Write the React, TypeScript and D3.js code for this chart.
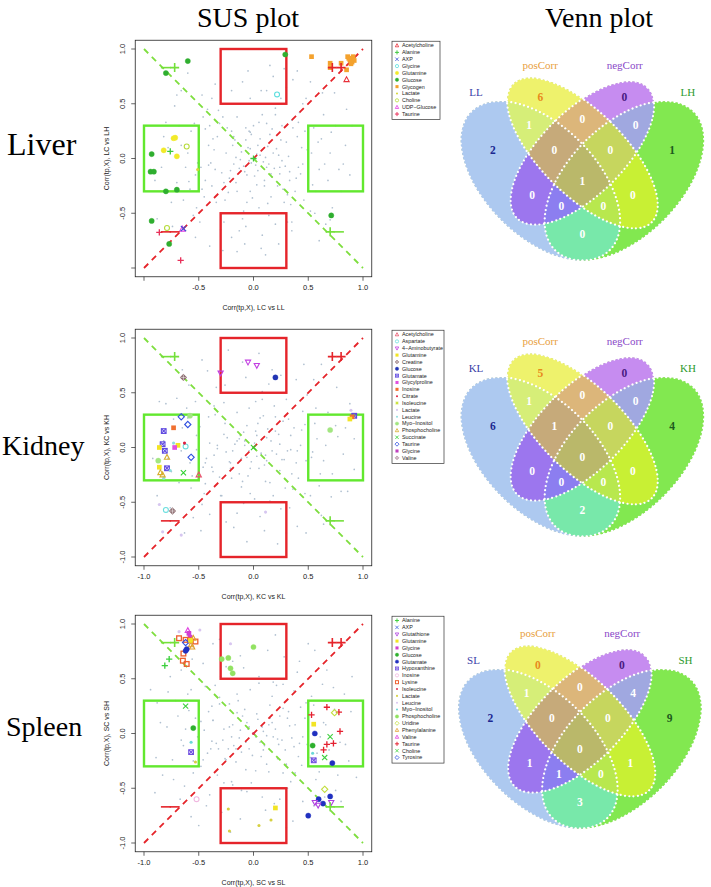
import React from 'react';
import * as d3 from 'd3';

const W = 711;
const H = 887;

// ---------------- DATA ----------------
const tickValues = [-1, -0.5, 0, 0.5, 1];
const tickLabels = ['-1.0', '-0.5', '0.0', '0.5', '1.0'];

const rowLabels = ['Liver', 'Kidney', 'Spleen'];
const xTitles = ['Corr(tp,X), LC vs LL', 'Corr(tp,X), KC vs KL', 'Corr(tp,X), SC vs SL'];
const yTitles = ['Corr(tp,X), LC vs LH', 'Corr(tp,X), KC vs KH', 'Corr(tp,X), SC vs SH'];

// threshold boxes [x0, x1, y0, y1]
const redBoxes = [[-0.3, 0.3, 0.5, 1], [-0.3, 0.3, -1, -0.5]];
const greenBoxes = [[-1, -0.5, -0.3, 0.3], [0.5, 1, -0.3, 0.3]];

// quadrant sign annotations
const signLabels = ['-', '+', '+', '+', '-', '-', '+', '-'];
const signX = [-0.80, -0.72, 0.72, 0.80, -0.80, -0.72, 0.70, 0.78];
const signY = [0.83, 0.83, 0.83, 0.83, -0.67, -0.67, -0.67, -0.67];

// legends
const liverLegend = ['Acetylcholine', 'Alanine', 'AXP', 'Glycine', 'Glutamine', 'Glucose', 'Glycogen', 'Lactate', 'Choline', 'UDP\u2212Glucose', 'Taurine'];
const kidneyLegend = ['Acetylcholine', 'Aspartate', '4\u2212Aminobutyrate', 'Glutamine', 'Creatine', 'Glucose', 'Glutamate', 'Glycylproline', 'Inosine', 'Citrate', 'Isoleucine', 'Lactate', 'Leucine', 'Myo\u2212Inositol', 'Phosphocholine', 'Succinate', 'Taurine', 'Glycine', 'Valine'];
const spleenLegend = ['Alanine', 'AXP', 'Glutathione', 'Glutamine', 'Glycine', 'Glucose', 'Glutamate', 'Hypoxanthine', 'Inosine', 'Lysine', 'Isoleucine', 'Lactate', 'Leucine', 'Myo\u2212Inositol', 'Phosphocholine', 'Uridine', 'Phenylalanine', 'Valine', 'Taurine', 'Choline', 'Tyrosine'];

// metabolite points: [name, x, y]
const liverPts: [string, number, number][] = [
  ['Glucose', -0.60, 0.89], ['Glucose', -0.80, 0.78], ['Glucose', 0.29, 0.95], ['Glucose', -0.93, 0.04],
  ['Glucose', -0.94, -0.12], ['Glucose', -0.91, -0.12], ['Glucose', -0.80, -0.30], ['Glucose', -0.70, -0.285],
  ['Glucose', -0.93, -0.57], ['Glucose', -0.77, -0.78], ['Glucose', 0.71, -0.52],
  ['Alanine', -0.76, 0.065], ['Alanine', 0.0, 0.0],
  ['Glutamine', -0.73, 0.185], ['Glutamine', -0.715, 0.19], ['Glutamine', -0.82, 0.075], ['Glutamine', -0.70, 0.02],
  ['Choline', -0.61, 0.11], ['Choline', -0.79, -0.635],
  ['Lactate', -0.51, -0.10],
  ['Glycogen', 0.53, 0.93], ['Glycogen', 0.70, 0.87], ['Glycogen', 0.70, 0.83], ['Glycogen', 0.80, 0.87],
  ['Glycogen', 0.85, 0.81], ['Glycogen', 0.86, 0.93], ['Glycogen', 0.88, 0.90], ['Glycogen', 0.90, 0.88],
  ['Glycogen', 0.91, 0.93], ['Glycogen', 0.92, 0.895], ['Glycogen', 0.89, 0.865], ['Glycogen', 0.87, 0.915],
  ['Acetylcholine', 0.85, 0.72],
  ['Taurine', -0.86, -0.675], ['Taurine', -0.665, -0.93],
  ['Glycine', 0.215, 0.585],
  ['UDP\u2212Glucose', -0.65, -0.645], ['AXP', -0.64, -0.64],
];

const kidneyPts: [string, number, number][] = [
  ['4\u2212Aminobutyrate', -0.05, 0.78], ['4\u2212Aminobutyrate', 0.03, 0.75], ['4\u2212Aminobutyrate', -0.30, 0.68],
  ['Glucose', 0.20, 0.64],
  ['Creatine', -0.64, 0.64], ['Creatine', -0.74, -0.58],
  ['Aspartate', -0.80, -0.57], ['Aspartate', -0.62, 0.01],
  ['Lactate', -0.86, -0.52], ['Lactate', -0.83, -0.77], ['Lactate', -0.66, -0.80], ['Lactate', 0.11, -0.59], ['Lactate', 0.89, 0.34],
  ['Myo\u2212Inositol', -0.58, 0.29], ['Myo\u2212Inositol', -0.87, -0.12], ['Myo\u2212Inositol', 0.70, 0.16],
  ['Taurine', -0.66, 0.28], ['Taurine', -0.60, 0.21], ['Taurine', -0.57, -0.09],
  ['Glutamate', -0.82, 0.15], ['Glutamate', -0.83, 0.03], ['Glutamate', -0.81, -0.03], ['Glutamate', -0.79, -0.19], ['Glutamate', 0.92, 0.29],
  ['Inosine', -0.73, 0.18], ['Inosine', 0.90, 0.28],
  ['Glutamine', -0.86, 0.0], ['Glutamine', -0.69, 0.02], ['Glutamine', -0.86, -0.18], ['Glutamine', 0.88, 0.26],
  ['Glycylproline', -0.72, 0.0],
  ['Citrate', -0.63, 0.04],
  ['Leucine', -0.73, 0.04], ['Leucine', -0.76, -0.21], ['Leucine', -0.82, -0.28],
  ['Phosphocholine', -0.79, -0.09], ['Phosphocholine', -0.85, -0.23], ['Phosphocholine', -0.83, -0.25],
  ['Succinate', -0.64, -0.23], ['Succinate', 0.0, 0.0],
  ['Acetylcholine', -0.50, -0.25],
];

const spleenPts: [string, number, number][] = [
  ['Valine', -0.60, 0.94], ['Glycine', -0.59, 0.915], ['Glycine', -0.58, 0.88],
  ['Lysine', -0.68, 0.87], ['Lysine', -0.62, 0.855], ['Lysine', -0.58, 0.85], ['Lysine', -0.53, 0.84],
  ['Lysine', -0.64, 0.73], ['Lysine', -0.645, 0.665], ['Lysine', -0.61, 0.635],
  ['Phenylalanine', -0.55, 0.87], ['Phenylalanine', -0.57, 0.81], ['Phenylalanine', -0.56, 0.79],
  ['Tyrosine', -0.62, 0.83],
  ['Glutamate', -0.61, 0.77], ['Glutamate', -0.62, 0.755],
  ['Glutamine', -0.575, 0.85],
  ['Leucine', -0.49, 0.945], ['Leucine', -0.68, 0.93], ['Leucine', -0.21, 0.82],
  ['Alanine', -0.77, 0.68], ['Alanine', -0.81, 0.62],
  ['Phosphocholine', -0.29, 0.68], ['Phosphocholine', -0.23, 0.69], ['Phosphocholine', -0.21, 0.595],
  ['Phosphocholine', -0.19, 0.55], ['Phosphocholine', 0.0, 0.79],
  ['Choline', -0.62, 0.25], ['Glucose', -0.55, 0.05], ['Myo\u2212Inositol', -0.57, -0.08],
  ['Hypoxanthine', -0.57, -0.17], ['Lactate', -0.53, -0.26], ['Inosine', -0.52, -0.60],
  ['Taurine', 0.53, 0.17], ['Taurine', 0.67, 0.24], ['Taurine', 0.78, 0.195], ['Taurine', 0.79, 0.02],
  ['Taurine', 0.73, -0.09], ['Taurine', 0.67, -0.10], ['Taurine', 0.64, -0.15],
  ['Uridine', 0.74, 0.19], ['Glutamine', 0.55, 0.085], ['Glutamate', 0.56, 0.0], ['Glutamate', 0.72, -0.27],
  ['Glucose', 0.54, -0.11], ['Myo\u2212Inositol', 0.54, -0.18], ['Hypoxanthine', 0.55, -0.245],
  ['Choline', 0.70, -0.03], ['Choline', 0.65, -0.22],
  ['Glutamate', 0.595, -0.60], ['Glutamate', 0.635, -0.64], ['Glutamate', 0.70, -0.575], ['Glutamate', 0.50, -0.75],
  ['Glutathione', 0.56, -0.63], ['Glutathione', 0.59, -0.655], ['Glutathione', 0.71, -0.63],
  ['Uridine', 0.65, -0.51],
  ['Glutamine', 0.20, -0.68], ['Lactate', -0.23, -0.69], ['Lactate', -0.22, -0.89], ['Lactate', 0.05, -0.84], ['Lactate', 0.16, -0.79],
  ['Isoleucine', 0.0, 0.0],
];

// background (non-significant) points, in hundredths: x, y, x, y ...
const liverBg = [
  -5, 10, 12, -8, -20, 25, 30, 15, -35, -10, 8, 40, -15, -30, 22, -25, -40, 30, 45, -5,
  -8, -12, 15, 22, -25, 5, 35, 35, -45, -35, 5, -45, -12, 50, 28, -40, -30, -50, 40, 20,
  0, 30, -18, -5, 18, 5, -50, 15, 50, -20, -10, -55, 25, 55, -28, 38, 33, -12, -38, -25,
  10, -20, -22, -18, 20, 40, -42, 45, 42, 42, -3, -30, 14, -52, -33, 20, 38, -30, -48, -8,
  6, 18, -14, 14, 26, -2, -6, -40, 16, -35, -26, -38, 32, 2, -36, 8, 44, 10, -44, -20,
  2, -6, -2, 22, 12, 32, -16, -22, 24, -14, -24, 28, 36, 28, -34, -40, 46, -38, -46, 38,
  7, 62, -7, -62, 20, -60, -20, 62, 30, 65, -30, -65, 48, 55, -55, -52, 55, 28, -58, -28,
  60, -10, -60, 5, 8, -70, -10, 70, 18, 75, -20, -72, 35, -58, -38, 55, 52, -48, -52, -45,
  64, 40, -64, -38, 3, 4, -4, -2, 9, -3, -11, 6, 4, 12, -6, -15, 13, 11, -13, -9,
  17, -17, -17, 17, 21, 9, -21, -11, 27, -28, -27, -22, 31, -33, -31, 32, 39, -18, -39, -4,
  41, -8, -41, 12, 47, 25, -47, -28, 53, 5, -53, -15, 57, -30, -57, 25, 62, 18, -62, -8,
  68, -20, -68, 30, 70, 5, -70, -22, 72, -45, -72, 48, 75, 30, -75, -40, 78, -10, -78, 10,
  82, -5, -82, 20, 85, 45, -85, -30, 60, -75, -60, 78, 40, 80, -40, -80, 15, 85, -15, -85,
  23, -78, 36, 72, -8, -78, 11, -88, 66, -60, -66, 62, 74, 60, -74, -62, 88, -15, -88, -55,
  -2, -4, 6, 3, -9, -7, 11, 1, -3, 9, 4, -11, 14, -5, -7, 17, 19, -9, -16, 1,
  1, -16, 8, 8, -12, -1, 23, 3, -4, 25, 10, -25, -19, 12, 29, -7, -23, -31, 17, 27,
  -29, -13, 5, 33, -1, -36, 33, -20, -37, 18, 26, 30, -32, 44, 13, -41, 43, -14, -41, -6,
  -7, 28, 24, -8, -15, 38, 34, -42, -44, 27, 41, 33, -9, -48, 20, 46, -51, -4, 49, 8,
  -3, 55, 31, -58, -27, -58, 54, -24, -54, 32, 59, 15, -59, -21, 12, 62, -13, -66, 45, 50,
  -47, 58, 56, -50, -49, -58, 65, -5, -66, 12, 35, -66, -35, 68, 71, 24, -69, -30, 7, -82,
  -5, 80, 28, 82, -28, -84, 80, -30, -80, 33, 63, 60, -62, -66, 84, 12, -84, -8, 90, 30,
  -90, -20, 52, 70, -53, -72, 70, -56, -70, 58, 3, -24, -3, 24, 16, -14, -18, 20, 25, 17,
];
const kidneyBg = [
  3, -8, -9, 14, 16, 6, -21, -19, 27, 24, -33, 2, 11, -31, -4, 36, 39, -14, -44, -33,
  21, -6, -13, -24, 6, 27, 29, -37, -27, 41, 34, 11, -36, -7, 45, 33, -49, 19, 1, -47,
  -17, 3, 13, 17, -6, -9, 24, -21, -24, 9, 8, 44, -29, -44, 41, -28, -41, 28, 18, -44,
  2, 15, -11, -36, 31, -3, -38, -18, 48, -12, -52, -2, 19, 38, -19, -3, 10, -16, -3, -19,
  56, 22, -56, -26, 60, -35, -61, 36, 14, 58, -15, -60, 33, -55, -34, 55, 49, 48, -47, -52,
  7, -5, -8, 6, 12, -12, -12, 11, 4, 22, -5, -26, 23, 12, -22, -13, 26, -11, -26, 22,
  35, -24, -35, 30, 43, 2, -43, -10, 52, -44, -53, 42, 58, 8, -58, -14, 64, -12, -65, 18,
  68, 32, -68, -32, 72, -24, -73, 26, 77, 10, -78, -10, 80, -40, -80, 40, 84, 18, -85, -20,
  25, 66, -25, -68, 40, -72, -42, 70, 55, 62, -55, -64, 62, -62, -62, 64, 10, -76, -10, 78,
  30, -78, -30, 80, 46, 76, -48, -76, 5, 86, -6, -86, 70, -66, 88, 40, -88, -44, 92, -20,
  -15, 32, 15, -32, 37, 18, -37, -22, 47, -42, -45, -42, 54, -4, -50, 8, 20, 28, -20, -28,
  1, 4, -4, -3, 7, -6, -8, 2, 3, 11, -2, -13, 12, 9, -11, -10, 17, -3, -15, 6,
  5, -19, -6, 20, 20, 15, -21, -14, 28, -11, -27, 12, 9, 29, -10, -31, 32, 26, -31, -27,
  40, -3, -40, 4, 2, 42, -3, -42, 36, -38, -36, 38, 15, -49, -16, 50, 47, 21, -46, -18,
  53, -9, -52, 11, 25, -56, -26, 57, 6, -63, -7, 64, 57, 36, -57, -37, 61, -24, -60, 27,
  66, 2, -66, -3, 39, 62, -40, -61, 71, -45, -70, 45, 17, 71, -18, -73, 75, 20, -75, -22,
  82, -6, -82, 6, 48, -78, -47, 80, 64, -70, -65, 71, 86, -40, -86, 42, 22, -88, -23, 89,
  34, -2, -33, -1, 44, 16, -44, -14, 11, -7, -13, 8, 24, 3, -25, -4, 8, 51, -9, -51,
  58, -58, -59, 57, 30, 44, -30, -44, 76, 55, -76, -55, 92, 8, -92, -10, 62, 76, -63, -78,
];
const spleenBg = [
  -4, 6, 10, -11, -15, 19, 22, -23, -28, -6, 32, 20, -7, -33, 17, 34, -37, 12, 42, -9,
  -11, -17, 14, 8, -22, 27, 27, -36, -33, -38, 37, 39, -2, -45, 5, 46, -46, -24, 47, 14,
  9, 2, -13, -4, 18, -3, -19, 8, 24, 16, -25, -24, 29, -15, -31, 33, 35, -4, -39, -14,
  44, -29, -44, 43, 50, 2, -51, -3, 53, 34, -55, -36, 58, -18, -59, 21, 63, 45, -63, -48,
  3, 18, -1, -20, 12, -28, -14, 30, 21, 44, -20, -44, 31, -50, -30, 52, 40, 56, -40, -56,
  8, -58, -9, 60, 19, -64, -19, 66, 28, 70, -29, -72, 45, -62, -46, 64, 55, -66, -56, 68,
  66, 8, -66, -6, 70, -28, -71, 30, 74, 22, -74, -24, 79, -8, -79, 6, 83, 36, -83, -38,
  6, -8, -6, 10, 15, 14, -16, -14, 26, -6, -27, 4, 33, 7, -34, -9, 38, -36, -38, 25,
  48, 28, -48, -30, 57, -42, -57, 40, 61, -3, -62, 4, 67, 58, -67, -60, 75, -52, -76, 52,
  13, 76, -12, -78, 36, -80, -37, 82, 50, 82, -50, -84, 87, -25, -88, 28, 90, 52, -90, -54,
  2, -34, -3, 40, 23, -10, -23, -14, 43, 24, -42, -18, 52, -22, -53, 14, 11, 50, -11, -52,
  2, -3, -5, 4, 8, 6, -7, -8, 12, -2, -12, 3, 4, 13, -4, -14, 17, 10, -18, -11,
  22, -5, -22, 6, 7, -21, -8, 22, 27, 23, -26, -23, 30, -28, -31, 27, 14, -35, -15, 36,
  38, 8, -38, -7, 41, -21, -41, 20, 18, 47, -19, -47, 49, -10, -48, 11, 5, 52, -6, -53,
  34, -44, -35, 44, 55, 26, -55, -25, 60, -35, -60, 36, 24, -60, -25, 61, 64, 10, -64, -11,
  42, 66, -43, -66, 69, -15, -69, 16, 11, -70, -12, 71, 73, 42, -73, -42, 77, -38, -78, 38,
  30, -86, -31, 86, 84, -10, -85, 10, 56, 76, -57, -76, 89, 20, -89, -22, 20, 90, -21, -90,
  9, -15, -10, 16, 20, 4, -20, -3, 31, 14, -32, -14, 45, -3, -45, 3, 15, 26, -16, -26,
  37, -12, -37, 12, 27, 45, -27, -45, 65, -58, -66, 58, 80, -62, -80, 62, 94, -40, -94, 40,
];

// Venn
const liverVennLabels = ['LL', 'posCorr', 'negCorr', 'LH'];
const kidneyVennLabels = ['KL', 'posCorr', 'negCorr', 'KH'];
const spleenVennLabels = ['SL', 'posCorr', 'negCorr', 'SH'];
// region counts, order: B, BC, C, AB, ABC, ABCD, BCD, CD, A, AC, ACD, AD, ABD, BD, D
const liverCounts = [6, 0, 0, 1, 0, 1, 0, 0, 2, 0, 0, 0, 0, 0, 1];
const kidneyCounts = [5, 0, 0, 1, 1, 0, 0, 0, 6, 0, 0, 2, 0, 0, 4];
const spleenCounts = [0, 0, 0, 1, 0, 0, 0, 4, 2, 1, 1, 3, 0, 1, 9];

// ---------------- STYLES ----------------
type Sty = { shape: string; color: string };
const liverStyles: Record<string, Sty> = {
  'Acetylcholine': { shape: 'tri', color: '#e8303a' },
  'Alanine': { shape: 'plus', color: '#3cc83c' },
  'AXP': { shape: 'x', color: '#3a50d8' },
  'Glycine': { shape: 'circle', color: '#5cdede' },
  'Glutamine': { shape: 'fcircle', color: '#f2ea2a' },
  'Glucose': { shape: 'fcircle', color: '#2fae2f' },
  'Glycogen': { shape: 'fsquare', color: '#f4a22e' },
  'Lactate': { shape: 'dot', color: '#d6d63a' },
  'Choline': { shape: 'circle', color: '#b6dc3a' },
  'UDP\u2212Glucose': { shape: 'tri', color: '#e23ee2' },
  'Taurine': { shape: 'plus', color: '#e8305a' },
};
const kidneyStyles: Record<string, Sty> = {
  'Acetylcholine': { shape: 'tri', color: '#e6506a' },
  'Aspartate': { shape: 'circle', color: '#6adede' },
  '4\u2212Aminobutyrate': { shape: 'dtri', color: '#c23ee2' },
  'Glutamine': { shape: 'fsquare', color: '#f2e424' },
  'Creatine': { shape: 'diamplus', color: '#8e6e72' },
  'Glucose': { shape: 'fcircle', color: '#2234b4' },
  'Glutamate': { shape: 'sqx', color: '#5e48e0' },
  'Glycylproline': { shape: 'fsquare', color: '#e050e0' },
  'Inosine': { shape: 'fsquare', color: '#f07030' },
  'Citrate': { shape: 'dot', color: '#e02040' },
  'Isoleucine': { shape: 'star', color: '#c6e030' },
  'Lactate': { shape: 'dot', color: '#d6c6f0' },
  'Leucine': { shape: 'dot', color: '#8edede' },
  'Myo\u2212Inositol': { shape: 'fcircle', color: '#a2e680' },
  'Phosphocholine': { shape: 'tri', color: '#d6ae2e' },
  'Succinate': { shape: 'x', color: '#30d030' },
  'Taurine': { shape: 'diamond', color: '#3050e0' },
  'Glycine': { shape: 'fsquare', color: '#c040c0' },
  'Valine': { shape: 'diamplus', color: '#a88496' },
};
const spleenStyles: Record<string, Sty> = {
  'Alanine': { shape: 'plus', color: '#3cd03c' },
  'AXP': { shape: 'x', color: '#3e5ee0' },
  'Glutathione': { shape: 'dtri', color: '#b040e0' },
  'Glutamine': { shape: 'fsquare', color: '#f2e424' },
  'Glycine': { shape: 'fsquare', color: '#d040d0' },
  'Glucose': { shape: 'fcircle', color: '#2eb02e' },
  'Glutamate': { shape: 'fcircle', color: '#2030c0' },
  'Hypoxanthine': { shape: 'sqx', color: '#7050e0' },
  'Inosine': { shape: 'circle', color: '#f0b8e0' },
  'Lysine': { shape: 'square', color: '#ee6030' },
  'Isoleucine': { shape: 'dot', color: '#e03050' },
  'Lactate': { shape: 'dot', color: '#d6d040' },
  'Leucine': { shape: 'dot', color: '#d8c6f0' },
  'Myo\u2212Inositol': { shape: 'dot', color: '#6ad8d8' },
  'Phosphocholine': { shape: 'fcircle', color: '#92e262' },
  'Uridine': { shape: 'diamond', color: '#c2de3e' },
  'Phenylalanine': { shape: 'tri', color: '#e0a030' },
  'Valine': { shape: 'tri', color: '#e040e0' },
  'Taurine': { shape: 'plus', color: '#e42030' },
  'Choline': { shape: 'x', color: '#3ed03e' },
  'Tyrosine': { shape: 'diamond', color: '#3050e0' },
};

const RED = '#e5242a';
const GREEN = '#62e82e';
const SERIF = '"Liberation Serif", "Times New Roman", serif';
const SANS = '"Liberation Sans", Arial, sans-serif';

const regionColors: Record<number, string> = {
  1: '#adc9f0', 2: '#eef26c', 4: '#c68cf0', 8: '#82e850',
  3: '#d6ee78', 5: '#9c76ee', 9: '#78e8aa', 6: '#dcb67a', 10: '#c8f034', 12: '#a0a8e0',
  7: '#c6aa7a', 11: '#b8e84e', 13: '#8c7ef0', 14: '#c6d65e', 15: '#bab86a',
};
const regionMasks = [2, 6, 4, 3, 7, 15, 14, 12, 1, 5, 13, 9, 11, 10, 8];
const regionLX = [0.35, 0.5, 0.65, 0.31, 0.40, 0.5, 0.60, 0.69, 0.18, 0.32, 0.425, 0.5, 0.575, 0.68, 0.82];
const regionLY = [0.77, 0.69, 0.77, 0.67, 0.58, 0.47, 0.58, 0.67, 0.58, 0.42, 0.38, 0.28, 0.38, 0.42, 0.58];
const ellCX = [0.35, 0.5, 0.5, 0.65];
const ellCY = [0.47, 0.57, 0.57, 0.47];
const ellA = [0.35, 0.35, 0.33, 0.35];
const ellB = [0.20, 0.15, 0.15, 0.20];
const ellRot = [45, 45, -45, -45];
const catLX = [0.12, 0.349, 0.651, 0.877];
const catLY = [0.789, 0.885, 0.885, 0.789];
const catColors = ['#3a3ea8', '#e8a040', '#8a48c8', '#2e9a2e'];
const singleNumColors: Record<number, string> = { 1: '#1c2890', 2: '#e88a1c', 4: '#4a1a80', 8: '#1e5a1e' };

function pairs(a: number[]): [number, number][] {
  const out: [number, number][] = [];
  for (let i = 0; i < a.length; i += 2) out.push([a[i] / 100, a[i + 1] / 100]);
  return out;
}

function Sym({ shape, color, x, y, s }: { shape: string; color: string; x: number; y: number; s: number }) {
  const sw = s > 2.2 ? 1.1 : 0.8;
  switch (shape) {
    case 'tri':
      return <polygon points={`${x},${y - s * 1.1} ${x - s},${y + s * 0.75} ${x + s},${y + s * 0.75}`} fill="none" stroke={color} strokeWidth={sw} />;
    case 'dtri':
      return <polygon points={`${x},${y + s * 1.1} ${x - s},${y - s * 0.75} ${x + s},${y - s * 0.75}`} fill="none" stroke={color} strokeWidth={sw} />;
    case 'plus':
      return <path d={`M${x - s * 1.2},${y}H${x + s * 1.2}M${x},${y - s * 1.2}V${y + s * 1.2}`} stroke={color} strokeWidth={sw * 1.2} />;
    case 'x':
      return <path d={`M${x - s},${y - s}L${x + s},${y + s}M${x - s},${y + s}L${x + s},${y - s}`} stroke={color} strokeWidth={sw} />;
    case 'circle':
      return <circle cx={x} cy={y} r={s * 0.95} fill="none" stroke={color} strokeWidth={sw} />;
    case 'fcircle':
      return <circle cx={x} cy={y} r={s} fill={color} stroke={color} strokeWidth={0.4} />;
    case 'square':
      return <rect x={x - s * 0.9} y={y - s * 0.9} width={s * 1.8} height={s * 1.8} fill="none" stroke={color} strokeWidth={sw * 1.2} />;
    case 'fsquare':
      return <rect x={x - s * 0.9} y={y - s * 0.9} width={s * 1.8} height={s * 1.8} fill={color} />;
    case 'diamond':
      return <polygon points={`${x},${y - s * 1.2} ${x + s * 1.2},${y} ${x},${y + s * 1.2} ${x - s * 1.2},${y}`} fill="none" stroke={color} strokeWidth={sw} />;
    case 'dot':
      return <circle cx={x} cy={y} r={s * 0.6} fill={color} />;
    case 'sqx':
      return (
        <g stroke={color} strokeWidth={sw} fill="none">
          <rect x={x - s * 0.9} y={y - s * 0.9} width={s * 1.8} height={s * 1.8} />
          <path d={`M${x - s * 0.9},${y - s * 0.9}L${x + s * 0.9},${y + s * 0.9}M${x - s * 0.9},${y + s * 0.9}L${x + s * 0.9},${y - s * 0.9}`} />
        </g>
      );
    case 'diamplus':
      return (
        <g stroke={color} strokeWidth={sw} fill={color}>
          <polygon points={`${x},${y - s * 1.1} ${x + s * 1.1},${y} ${x},${y + s * 1.1} ${x - s * 1.1},${y}`} />
          <path d={`M${x - s * 1.1},${y}H${x + s * 1.1}M${x},${y - s * 1.1}V${y + s * 1.1}`} stroke="#ffffff" strokeWidth={0.5} />
        </g>
      );
    case 'star':
      return <path d={`M${x - s},${y}H${x + s}M${x},${y - s}V${y + s}M${x - s * 0.7},${y - s * 0.7}L${x + s * 0.7},${y + s * 0.7}M${x - s * 0.7},${y + s * 0.7}L${x + s * 0.7},${y - s * 0.7}`} stroke={color} strokeWidth={sw} />;
    default:
      return <circle cx={x} cy={y} r={s} fill={color} />;
  }
}

type Panel = {
  yTop: number; bg: number[]; pts: [string, number, number][]; legend: string[]; styles: Record<string, Sty>;
  hideMin: boolean; xTitle: string; yTitle: string; label: string; labelX: number; labelY: number; labelSize: number;
};

const panels: Panel[] = [
  { yTop: 49, bg: liverBg, pts: liverPts, legend: liverLegend, styles: liverStyles, hideMin: true, xTitle: xTitles[0], yTitle: yTitles[0], label: rowLabels[0], labelX: 7, labelY: 155, labelSize: 32 },
  { yTop: 338, bg: kidneyBg, pts: kidneyPts, legend: kidneyLegend, styles: kidneyStyles, hideMin: false, xTitle: xTitles[1], yTitle: yTitles[1], label: rowLabels[1], labelX: 2, labelY: 455, labelSize: 28 },
  { yTop: 624, bg: spleenBg, pts: spleenPts, legend: spleenLegend, styles: spleenStyles, hideMin: false, xTitle: xTitles[2], yTitle: yTitles[2], label: rowLabels[2], labelX: 6, labelY: 736, labelSize: 28 },
];

const xS = d3.scaleLinear().domain([-1, 1]).range([144, 363]);

function Scatter({ p, idx }: { p: Panel; idx: number }) {
  const yS = d3.scaleLinear().domain([-1, 1]).range([p.yTop + 219, p.yTop]);
  const bx0 = xS(-1.08), bx1 = xS(1.08), by0 = yS(1.08), by1 = yS(-1.08);
  const bg = pairs(p.bg);
  const lx = 392, ly = by0 + 1, rowH = 6.85;
  const lw = idx === 0 ? 48 : 52;
  const lh = p.legend.length * rowH + 3;
  return (
    <g>
      <text x={p.labelX} y={p.labelY} fontFamily={SERIF} fontSize={p.labelSize}>{p.label}</text>
      {bg.map((d, i) => (
        <circle key={i} cx={xS(d[0])} cy={yS(d[1])} r={0.85} fill="#b0c0d0" />
      ))}
      <line x1={xS(-1)} y1={yS(-1)} x2={xS(1)} y2={yS(1)} stroke={RED} strokeWidth={1.8} strokeDasharray="6 5" />
      <line x1={xS(-1)} y1={yS(1)} x2={xS(1)} y2={yS(-1)} stroke="#7ede3e" strokeWidth={1.8} strokeDasharray="6 5" />
      {redBoxes.map((b, i) => (
        <rect key={'r' + i} x={xS(b[0])} y={yS(b[3])} width={xS(b[1]) - xS(b[0])} height={yS(b[2]) - yS(b[3])} fill="none" stroke={RED} strokeWidth={2.4} />
      ))}
      {greenBoxes.map((b, i) => (
        <rect key={'g' + i} x={xS(b[0])} y={yS(b[3])} width={xS(b[1]) - xS(b[0])} height={yS(b[2]) - yS(b[3])} fill="none" stroke={GREEN} strokeWidth={2.4} />
      ))}
      {p.pts.map((d, i) => {
        const st = p.styles[d[0]];
        return <Sym key={'p' + i} shape={st.shape} color={st.color} x={xS(d[1])} y={yS(d[2])} s={2.6} />;
      })}
      {signLabels.map((s, i) => {
        const cx = xS(signX[i]), cy = yS(signY[i]);
        const col = signX[i] * signY[i] < 0 ? '#74e03a' : RED;
        return s === '+' ? (
          <path key={'s' + i} d={`M${cx - 4.5},${cy}H${cx + 4.5}M${cx},${cy - 4.5}V${cy + 4.5}`} stroke={col} strokeWidth={1.6} />
        ) : (
          <path key={'s' + i} d={`M${cx - 5},${cy}H${cx + 5}`} stroke={col} strokeWidth={1.6} />
        );
      })}
      <rect x={bx0} y={by0} width={bx1 - bx0} height={by1 - by0} fill="none" stroke="#222" strokeWidth={0.8} />
      {tickValues.map((t, i) => (
        <g key={'tx' + i}>
          <line x1={xS(t)} x2={xS(t)} y1={by1} y2={by1 + 4} stroke="#222" strokeWidth={0.7} />
          {!(p.hideMin && i === 0) && (
            <text x={xS(t)} y={by1 + 13.5} textAnchor="middle" fontFamily={SANS} fontSize={7.5} fill="#222">{tickLabels[i]}</text>
          )}
          <line x1={bx0} x2={bx0 - 4} y1={yS(t)} y2={yS(t)} stroke="#222" strokeWidth={0.7} />
          {!(p.hideMin && i === 0) && (
            <text transform={`translate(${bx0 - 10},${yS(t)}) rotate(-90)`} textAnchor="middle" fontFamily={SANS} fontSize={7.5} fill="#222">{tickLabels[i]}</text>
          )}
        </g>
      ))}
      <text x={(bx0 + bx1) / 2} y={by1 + 33} textAnchor="middle" fontFamily={SANS} fontSize={7} fill="#222">{p.xTitle}</text>
      <text transform={`translate(${108.5},${(by0 + by1) / 2}) rotate(-90)`} textAnchor="middle" fontFamily={SANS} fontSize={7} fill="#222">{p.yTitle}</text>
      <rect x={lx} y={ly} width={lw} height={lh} fill="#fff" stroke="#333" strokeWidth={0.7} />
      {p.legend.map((name, i) => {
        const st = p.styles[name];
        const yy = ly + 4.3 + i * rowH;
        return (
          <g key={'l' + i}>
            <Sym shape={st.shape} color={st.color} x={lx + 5} y={yy} s={1.7} />
            <text x={lx + 10} y={yy + 1.9} fontFamily={SANS} fontSize={5.4} fill="#222">{name}</text>
          </g>
        );
      })}
    </g>
  );
}

function Venn({ id, labels, counts, dx, dy }: { id: string; labels: string[]; counts: number[]; dx: number; dy: number }) {
  const vx = d3.scaleLinear().domain([0, 1]).range([442.4 + dx, 722.4 + dx]);
  const vy = d3.scaleLinear().domain([0, 1]).range([312 + dy, 33 + dy]);
  const ell = (i: number, props: any) => (
    <ellipse cx={vx(ellCX[i])} cy={vy(ellCY[i])} rx={ellA[i] * 280} ry={ellB[i] * 279}
      transform={`rotate(${ellRot[i]} ${vx(ellCX[i])} ${vy(ellCY[i])})`} {...props} />
  );
  const allM = [1, 2, 3, 4, 5, 6, 7, 8, 9, 10, 11, 12, 13, 14, 15];
  return (
    <g>
      <defs>
        {[0, 1, 2, 3].map(i => (
          <clipPath key={i} id={`vc-${id}-${i}`}>{ell(i, {})}</clipPath>
        ))}
        {allM.map(m => (
          <mask key={m} id={`vm-${id}-${m}`} maskUnits="userSpaceOnUse" x={0} y={0} width={W} height={H}>
            <rect x={0} y={0} width={W} height={H} fill="#fff" />
            {[0, 1, 2, 3].filter(i => !(m & (1 << i))).map(i => (
              <React.Fragment key={i}>{ell(i, { fill: '#000' })}</React.Fragment>
            ))}
          </mask>
        ))}
      </defs>
      {[0, 1, 2, 3].map(i => (
        <React.Fragment key={'b' + i}>{ell(i, { fill: '#b8c89a' })}</React.Fragment>
      ))}
      {allM.map(m => {
        let el: any = <rect x={vx(0)} y={vy(1)} width={vx(1) - vx(0)} height={vy(0) - vy(1)} fill={regionColors[m]} />;
        [0, 1, 2, 3].forEach(i => {
          if (m & (1 << i)) el = <g clipPath={`url(#vc-${id}-${i})`}>{el}</g>;
        });
        return <g key={'m' + m} mask={`url(#vm-${id}-${m})`}>{el}</g>;
      })}
      {[0, 1, 2, 3].map(i => (
        <React.Fragment key={'o' + i}>{ell(i, { fill: 'none', stroke: '#ffffff', strokeWidth: 2.2, strokeDasharray: '0.01 4.3', strokeLinecap: 'round' })}</React.Fragment>
      ))}
      {counts.map((c, k) => {
        const m = regionMasks[k];
        const col = singleNumColors[m] || '#ffffff';
        return (
          <text key={'c' + k} x={vx(regionLX[k])} y={vy(regionLY[k]) + 4} textAnchor="middle" fontFamily={SERIF} fontSize={11.5} fontWeight="bold" fill={col}>{c}</text>
        );
      })}
      {labels.map((l, i) => (
        <text key={'t' + i} x={vx(catLX[i])} y={vy(catLY[i]) + 4} textAnchor="middle" fontFamily={SERIF} fontSize={11} fill={catColors[i]}>{l}</text>
      ))}
    </g>
  );
}

export default function App() {
  return (
    <svg width={W} height={H} viewBox={`0 0 ${W} ${H}`} style={{ position: 'absolute', left: 0, top: 0, background: '#fff' }}>
      <rect x={0} y={0} width={W} height={H} fill="#fff" />
      <text x={248} y={27} textAnchor="middle" fontFamily={SERIF} fontSize={28}>SUS plot</text>
      <text x={599} y={27} textAnchor="middle" fontFamily={SERIF} fontSize={28}>Venn plot</text>
      {panels.map((p, i) => <Scatter key={i} p={p} idx={i} />)}
      <Venn id="liver" labels={liverVennLabels} counts={liverCounts} dx={0} dy={0} />
      <Venn id="kidney" labels={kidneyVennLabels} counts={kidneyCounts} dx={0} dy={276} />
      <Venn id="spleen" labels={spleenVennLabels} counts={spleenCounts} dx={-2.5} dy={568} />
    </svg>
  );
}
